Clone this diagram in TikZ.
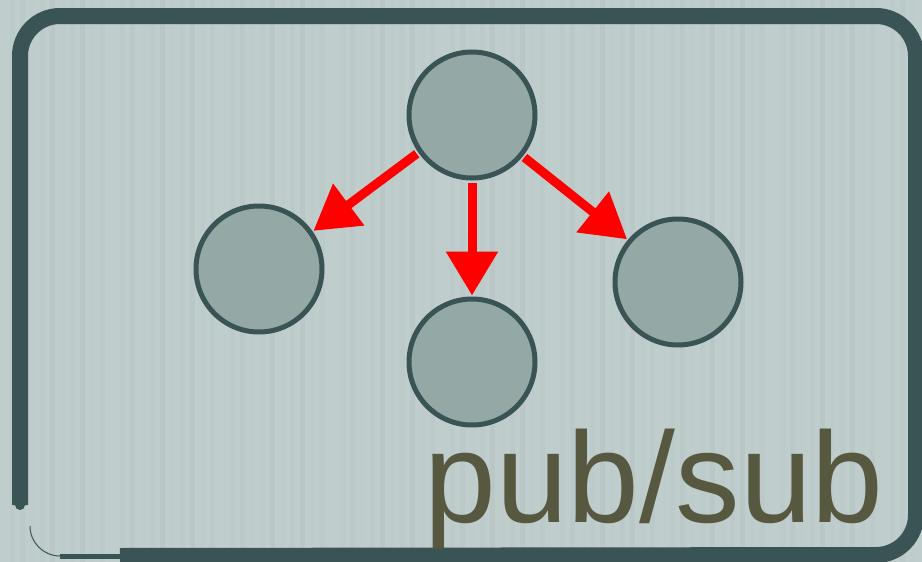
\documentclass[tikz,border=0pt]{standalone}
\usepackage{fontspec}
\setmainfont{Liberation Sans}
\usetikzlibrary{arrows.meta}
\definecolor{bgc}{HTML}{BFCDCC}
\definecolor{edgec}{HTML}{3A5355}
\definecolor{nodefill}{HTML}{94A9A5}
\definecolor{txtc}{HTML}{575840}
\tikzset{
  peer/.style={circle, draw=edgec, line width=5pt, fill=nodefill, minimum size=126pt, inner sep=0pt},
  pubarrow/.style={draw=red, line width=9pt, -{Triangle[length=44pt,width=50pt]}, shorten >=1pt, shorten <=2pt},
  frame/.style={draw=edgec, line width=16pt, line join=round}
}
\begin{document}
\begin{tikzpicture}[x=1pt,y=-1pt]
\useasboundingbox (0,0) rectangle (922,562);
\fill[bgc] (0,0) rectangle (922,562);
\foreach \i in {0,...,91}{
  \pgfmathsetmacro{\op}{mod(\i*37,11)/110}
  \fill[black!30!bgc, opacity=\op] (\i*10,0) rectangle (\i*10+5,562);
}
% frame
\draw[frame] (20,505) -- (20,56) arc[start angle=180,end angle=270,radius=40] -- (876,16) arc[start angle=270,end angle=360,radius=40] -- (916,515) arc[start angle=0,end angle=90,radius=40] -- (120,556);
\draw[edgec, line width=5pt] (120,556) -- (60,556);
\draw[edgec, line width=1pt] (60,556) arc[start angle=90,end angle=180,radius=30];
\draw[edgec, line width=10pt, line cap=round] (20,505) -- (20,490);
% nodes
\node[peer] (pub) at (472,115) {};
\node[peer] (s1) at (259,269) {};
\node[peer] (s2) at (472,362) {};
\node[peer] (s3) at (678,282) {};
\draw[pubarrow] (pub.215) -- (s1.35);
\draw[pubarrow] (pub.south) -- (s2.north);
\draw[pubarrow] (pub.321) -- (s3.140);
\node[anchor=base, text=txtc, font=\fontsize{129}{129}\selectfont, inner sep=0pt] (lbl) at (654,522) {pub/sub};
\end{tikzpicture}
\end{document}
